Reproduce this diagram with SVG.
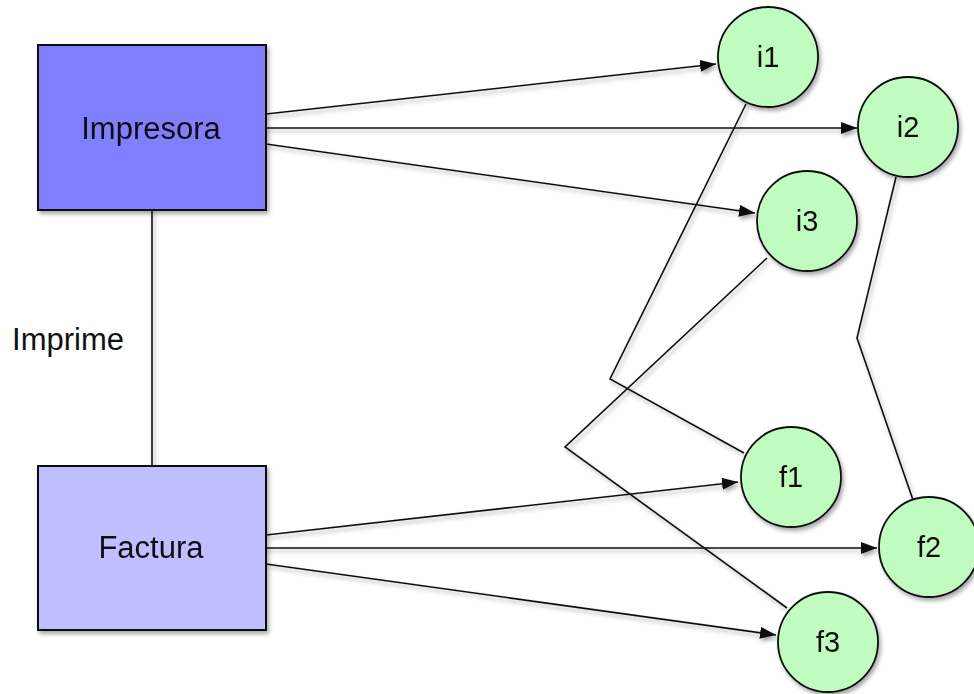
<svg xmlns="http://www.w3.org/2000/svg" width="974" height="694" viewBox="0 0 974 694">
<style>
.box{stroke:#111;stroke-width:2}
.node{fill:#c0fcc0;stroke:#111;stroke-width:1.8}
.lbl{font-family:"Liberation Sans",Arial,sans-serif;fill:#111;text-anchor:middle;dominant-baseline:central}
.edge{fill:none;stroke:#111;stroke-width:1.6}
</style>
<defs>
<filter id="sh" x="-20%" y="-20%" width="150%" height="150%">
<feGaussianBlur in="SourceAlpha" stdDeviation="2"/>
<feOffset dx="2" dy="3" result="b"/>
<feComponentTransfer><feFuncA type="linear" slope="0.35"/></feComponentTransfer>
<feMerge><feMergeNode/><feMergeNode in="SourceGraphic"/></feMerge>
</filter>
<marker id="ah" viewBox="0 0 16 12" refX="16" refY="6" markerWidth="16" markerHeight="12" markerUnits="userSpaceOnUse" orient="auto">
<path d="M0,0 L16,6 L0,12 Z" fill="#111"/>
</marker>
</defs>
<g id="edges" filter="url(#sh)">
<line class="edge" x1="152" y1="208" x2="152" y2="466"/>
<line class="edge" x1="266" y1="114" x2="716" y2="64" marker-end="url(#ah)"/>
<line class="edge" x1="264" y1="128" x2="857" y2="128" marker-end="url(#ah)"/>
<line class="edge" x1="266" y1="144" x2="755" y2="213" marker-end="url(#ah)"/>
<line class="edge" x1="266" y1="535" x2="738" y2="482" marker-end="url(#ah)"/>
<line class="edge" x1="264" y1="548" x2="877" y2="548" marker-end="url(#ah)"/>
<line class="edge" x1="266" y1="564" x2="776" y2="635" marker-end="url(#ah)"/>
<polyline class="edge" points="746,104 610,379 744,453"/>
<polyline class="edge" points="767,258 565,447 787,608"/>
<polyline class="edge" points="896,177 857,338 913,500"/>
</g>
<text class="lbl" x="68" y="339" font-size="31">Imprime</text>
<g id="impresora" filter="url(#sh)">
<rect class="box" x="38" y="45" width="228" height="165" fill="#7f7fff"/>
<text class="lbl" x="151" y="128" font-size="31">Impresora</text>
</g>
<g id="factura" filter="url(#sh)">
<rect class="box" x="38" y="466" width="228" height="164" fill="#bfbfff"/>
<text class="lbl" x="151" y="547" font-size="31">Factura</text>
</g>
<g id="i1" filter="url(#sh)"><circle class="node" cx="768" cy="57" r="50"/><text class="lbl" x="768" y="57" font-size="29">i1</text></g>
<g id="i2" filter="url(#sh)"><circle class="node" cx="908" cy="127" r="50"/><text class="lbl" x="908" y="127" font-size="29">i2</text></g>
<g id="i3" filter="url(#sh)"><circle class="node" cx="807" cy="221" r="50"/><text class="lbl" x="807" y="221" font-size="29">i3</text></g>
<g id="f1" filter="url(#sh)"><circle class="node" cx="791" cy="477" r="50"/><text class="lbl" x="791" y="477" font-size="29">f1</text></g>
<g id="f2" filter="url(#sh)"><circle class="node" cx="929" cy="547" r="50"/><text class="lbl" x="929" y="547" font-size="29">f2</text></g>
<g id="f3" filter="url(#sh)"><circle class="node" cx="828" cy="642" r="50"/><text class="lbl" x="828" y="642" font-size="29">f3</text></g>
</svg>
